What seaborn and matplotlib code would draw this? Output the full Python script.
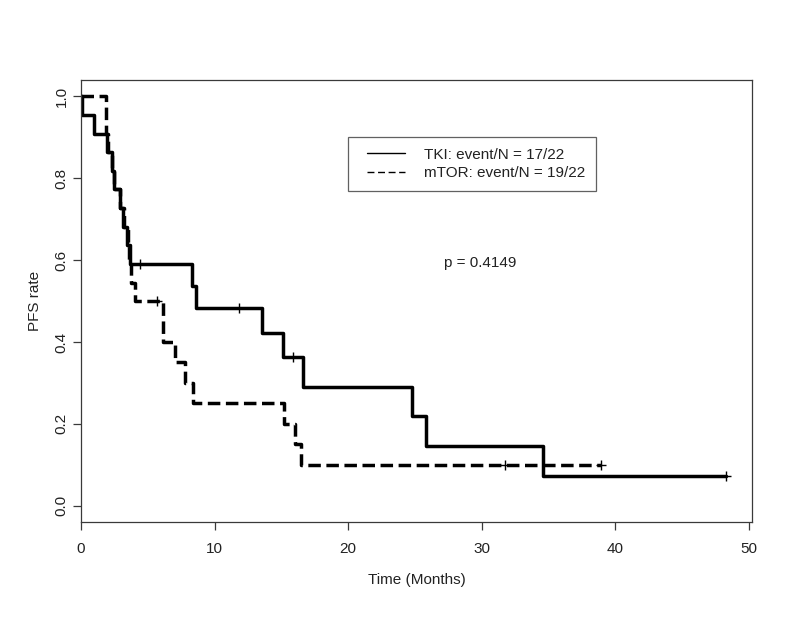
import matplotlib
matplotlib.use("Agg")
import matplotlib.pyplot as plt
import seaborn as sns
import pandas as pd
from matplotlib.lines import Line2D
from matplotlib.legend_handler import HandlerLine2D

# ---- data ----
tki_time = [0, 0.1, 0.97, 1.94, 2.31, 2.44, 2.94, 3.18, 3.43, 3.68,
            8.28, 8.6, 13.56, 15.13, 16.6, 24.8, 25.8, 34.6, 48.3]
tki_surv = [1.0, 0.955, 0.909, 0.864, 0.818, 0.773, 0.727, 0.682, 0.636, 0.591,
            0.537, 0.484, 0.423, 0.363, 0.290, 0.218, 0.145, 0.073, 0.073]
tki_cens_time = [4.4, 11.8, 15.9, 48.3]
tki_cens_surv = [0.591, 0.484, 0.363, 0.073]

mtor_time = [0, 1.9, 2.05, 2.35, 2.5, 2.95, 3.25, 3.5, 3.62, 3.75, 4.05,
             6.17, 7.04, 7.78, 8.4, 15.2, 16.0, 16.5, 38.9]
mtor_surv = [1.0, 0.909, 0.864, 0.818, 0.773, 0.727, 0.682, 0.636, 0.591, 0.545, 0.5,
             0.4, 0.35, 0.3, 0.25, 0.2, 0.15, 0.1, 0.1]
mtor_cens_time = [5.67, 31.7, 38.9]
mtor_cens_surv = [0.5, 0.1, 0.1]

legend_labels = ["TKI: event/N = 17/22", "mTOR: event/N = 19/22"]
p_text = "p = 0.4149"
x_ticks = [0, 10, 20, 30, 40, 50]
y_ticks = [0.0, 0.2, 0.4, 0.6, 0.8, 1.0]

# ---- styling ----
sns.set_style("white")
plt.rcParams["font.family"] = ["Liberation Sans", "DejaVu Sans"]
FS = 11
plt.rcParams["font.size"] = FS

fig = plt.figure(figsize=(8.0, 6.18), dpi=100)
ax = fig.add_axes([81 / 800, 1 - 521.7 / 618, (752 - 81) / 800, (521.7 - 80) / 618])

tki_df = pd.DataFrame({"time": tki_time, "surv": tki_surv})
mtor_df = pd.DataFrame({"time": mtor_time, "surv": mtor_surv})

lw = 2.5
sns.lineplot(data=tki_df, x="time", y="surv", ax=ax, color="black", lw=lw,
             drawstyle="steps-post", estimator=None, sort=False)
sns.lineplot(data=mtor_df, x="time", y="surv", ax=ax, color="black", lw=lw,
             drawstyle="steps-post", estimator=None, sort=False)
ax.lines[-1].set_dashes((3.6, 1.6))

sns.scatterplot(x=tki_cens_time, y=tki_cens_surv, ax=ax, marker="+", s=60,
                color="black", linewidth=1.0, zorder=5)
sns.scatterplot(x=mtor_cens_time, y=mtor_cens_surv, ax=ax, marker="+", s=60,
                color="black", linewidth=1.0, zorder=5)

ax.set_xlim(0, 50.22)
ax.set_ylim(-0.039, 1.04)
ax.set_xticks(x_ticks)
ax.set_yticks(y_ticks)
ax.set_xticklabels([str(v) for v in x_ticks])
ax.set_yticklabels([f"{v:.1f}" for v in y_ticks], rotation=90, va="center")

edge = "#3a3a3a"
txt = "#222222"
for sp in ax.spines.values():
    sp.set_color(edge)
    sp.set_linewidth(0.9)
    sp.set_visible(True)
ax.tick_params(axis="both", direction="out", length=6, width=0.9, color=edge,
               labelsize=FS, labelcolor=txt, bottom=True, left=True)
ax.tick_params(axis="x", pad=8.5)
ax.tick_params(axis="y", pad=3.0)

ax.set_xlabel("Time (Months)", fontsize=FS, color=txt)
ax.set_ylabel("PFS rate", fontsize=FS, color=txt)
ax.xaxis.set_label_coords(0.5, (521.7 - 580) / 441.7)
ax.xaxis.label.set_va("center")
ax.yaxis.set_label_coords((35 - 81) / 671, 0.5)
ax.yaxis.label.set_va("center")

ax.text(29.9, 0.594, p_text, ha="center", va="center", fontsize=FS, color=txt)

handles = [Line2D([0], [0], color="black", lw=1.0),
           Line2D([0], [0], color="black", lw=1.0, dashes=(5, 2.6))]
leg = ax.legend(handles, legend_labels, loc="upper left",
                bbox_to_anchor=((348 - 81) / 671, (521.7 - 137) / 441.7),
                frameon=True, fancybox=False, borderaxespad=0, borderpad=0.7,
                handlelength=3.05, handletextpad=1.25, labelspacing=0.28,
                fontsize=FS,
                handler_map={Line2D: HandlerLine2D(xpad=0.55)})
leg.get_frame().set_edgecolor(edge)
leg.get_frame().set_linewidth(0.9)
for t in leg.get_texts():
    t.set_color(txt)

fig.savefig("out.png", dpi=100, facecolor="white")
